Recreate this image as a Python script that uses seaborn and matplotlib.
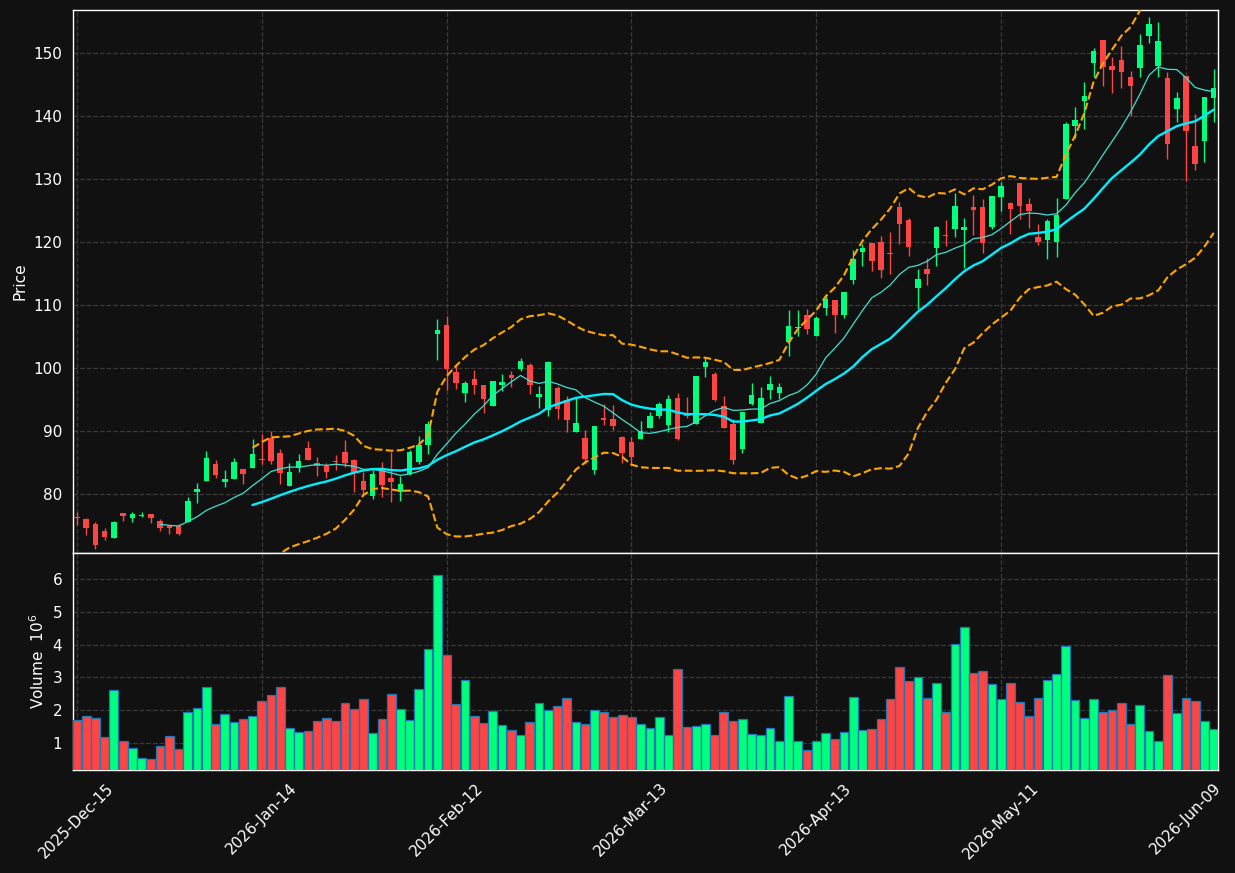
import matplotlib
matplotlib.use("Agg")
import matplotlib.pyplot as plt
import seaborn as sns
import numpy as np
import pandas as pd

# ---- Data ----
opens = [76.30, 75.93, 75.24, 74.02, 72.96, 76.88, 76.14, 76.51, 76.72, 75.61,
         74.87, 74.81, 75.50, 80.21, 81.96, 84.66, 81.85, 82.33, 83.86, 84.07,
         85.45, 88.84, 86.40, 81.22, 84.07, 87.20, 84.81, 84.34, 85.13, 86.56,
         85.29, 81.96, 79.63, 83.81, 82.43, 80.26, 83.17, 85.08, 87.67, 105.29,
         106.72, 99.26, 95.93, 98.15, 97.20, 93.86, 97.20, 98.78, 99.84, 100.37,
         95.29, 93.23, 96.72, 94.81, 89.74, 88.78, 83.70, 91.96, 91.80, 88.94,
         88.15, 88.68, 90.42, 92.28, 90.85, 95.13, 92.59, 91.00, 100.05, 98.94,
         93.97, 91.01, 87.04, 94.18, 91.16, 96.40, 95.93, 104.02, 106.30, 108.31,
         105.03, 109.47, 110.79, 108.31, 113.92, 118.31, 119.89, 120.05, 118.15, 125.45,
         123.54, 112.65, 115.66, 118.99, 121.16, 121.96, 121.80, 125.45, 125.45, 122.43,
         127.04, 126.24, 129.37, 126.03, 120.69, 120.21, 120.05, 126.77, 138.36, 142.28,
         148.36, 152.12, 147.99, 148.94, 146.24, 147.67, 152.65, 147.99, 146.08, 141.06,
         146.40, 135.29, 135.98, 142.80]
highs = [77.10, 76.19, 75.50, 74.60, 75.61, 76.88, 77.04, 77.09, 76.72, 76.03,
         74.87, 75.13, 79.47, 81.75, 86.72, 85.29, 83.81, 85.71, 83.86, 88.73,
         89.52, 89.95, 87.14, 84.87, 86.35, 88.41, 85.87, 84.92, 86.08, 88.57,
         85.45, 83.49, 83.70, 85.03, 86.56, 82.80, 86.88, 89.21, 91.48, 107.78,
         108.15, 100.63, 97.88, 99.68, 97.20, 97.83, 99.05, 99.52, 101.48, 100.79,
         97.14, 101.01, 97.04, 95.45, 95.13, 90.05, 90.69, 94.29, 94.13, 89.10,
         88.99, 91.59, 93.02, 94.55, 95.71, 96.03, 95.40, 98.62, 101.75, 99.37,
         95.56, 91.80, 92.91, 97.51, 96.88, 98.73, 97.62, 109.21, 109.21, 109.26,
         108.15, 111.75, 110.79, 111.96, 118.78, 119.58, 119.89, 120.90, 121.48, 126.40,
         123.86, 115.71, 117.51, 122.59, 123.39, 127.83, 123.86, 127.46, 126.72, 127.35,
         129.42, 126.40, 129.37, 126.93, 122.75, 123.65, 126.93, 138.99, 141.43, 145.40,
         150.85, 152.12, 149.42, 151.16, 147.20, 152.96, 155.77, 154.97, 147.04, 143.81,
         146.40, 140.32, 143.07, 147.46]
lows = [75.00, 73.49, 71.27, 72.70, 72.96, 75.61, 75.50, 76.30, 75.40, 74.07,
        73.60, 73.44, 75.50, 78.52, 81.96, 82.49, 81.11, 82.33, 81.59, 84.07,
        84.76, 84.76, 81.59, 81.22, 83.49, 85.29, 82.86, 82.54, 83.70, 84.29,
        80.26, 80.00, 79.21, 79.47, 78.68, 78.84, 83.02, 84.76, 86.35, 101.27,
        96.51, 96.61, 94.55, 95.87, 92.86, 93.86, 96.30, 96.98, 99.52, 95.87,
        93.65, 92.38, 91.80, 89.79, 89.74, 84.66, 83.07, 90.95, 90.16, 84.92,
        84.66, 88.68, 90.42, 92.06, 89.79, 88.47, 92.06, 91.00, 98.52, 94.66,
        90.42, 84.71, 86.46, 94.02, 91.16, 95.08, 94.97, 101.90, 105.03, 105.40,
        105.03, 108.31, 105.50, 107.88, 113.28, 116.19, 115.40, 114.29, 114.92, 119.63,
        117.78, 109.37, 113.17, 116.19, 119.37, 120.74, 115.77, 121.11, 118.20, 122.06,
        124.87, 121.27, 123.65, 122.17, 119.52, 117.30, 117.60, 126.77, 136.46, 137.94,
        146.19, 144.76, 143.65, 144.44, 140.00, 146.13, 151.64, 146.24, 133.12, 139.05,
        129.68, 131.43, 132.70, 139.05]
closes = [76.10, 74.55, 71.85, 73.07, 75.45, 76.40, 76.72, 76.67, 76.14, 74.50,
          74.50, 73.54, 78.78, 80.69, 85.61, 82.96, 82.28, 84.97, 83.12, 86.35,
          85.35, 85.13, 83.28, 83.39, 85.24, 85.29, 84.44, 83.44, 85.03, 84.81,
          83.33, 80.53, 83.07, 81.32, 81.80, 81.48, 86.56, 87.67, 91.01, 105.93,
          99.74, 97.57, 97.51, 97.20, 94.97, 97.83, 97.67, 98.31, 101.11, 97.20,
          95.77, 100.85, 93.39, 91.64, 91.16, 85.50, 90.69, 91.69, 90.69, 86.46,
          85.77, 90.00, 92.28, 94.18, 94.97, 88.62, 92.28, 98.62, 100.90, 94.81,
          90.42, 85.29, 92.91, 95.61, 95.13, 97.35, 96.88, 106.56, 106.40, 106.08,
          107.83, 110.85, 108.31, 111.96, 117.20, 118.94, 116.88, 115.45, 117.99, 122.80,
          119.10, 114.02, 114.92, 122.28, 120.85, 125.61, 122.28, 125.13, 119.89, 127.20,
          128.94, 125.29, 125.66, 124.87, 120.05, 123.23, 124.29, 138.78, 139.42, 143.23,
          150.37, 147.83, 147.25, 146.93, 144.76, 151.32, 154.66, 151.96, 135.56, 142.86,
          137.57, 132.28, 143.07, 144.50]
volumes = [1.70, 1.82, 1.76, 1.18, 2.61, 1.06, 0.85, 0.55, 0.52, 0.91,
           1.21, 0.82, 1.94, 2.06, 2.70, 1.58, 1.88, 1.64, 1.73, 1.82,
           2.27, 2.45, 2.70, 1.45, 1.33, 1.36, 1.67, 1.76, 1.67, 2.21,
           2.03, 2.33, 1.30, 1.73, 2.48, 2.03, 1.70, 2.64, 3.88, 6.12,
           3.67, 2.18, 2.91, 1.82, 1.61, 1.97, 1.55, 1.39, 1.24, 1.64,
           2.21, 2.00, 2.12, 2.36, 1.64, 1.58, 2.00, 1.94, 1.79, 1.85,
           1.79, 1.58, 1.45, 1.79, 1.24, 3.27, 1.48, 1.52, 1.58, 1.24,
           1.94, 1.67, 1.73, 1.27, 1.24, 1.45, 1.06, 2.42, 1.06, 0.79,
           1.06, 1.30, 1.12, 1.33, 2.39, 1.39, 1.42, 1.73, 2.33, 3.33,
           2.88, 3.00, 2.36, 2.82, 1.94, 4.03, 4.52, 3.12, 3.18, 2.79,
           2.33, 2.82, 2.24, 1.82, 2.36, 2.91, 3.09, 3.97, 2.32, 1.76,
           2.33, 1.94, 2.00, 2.21, 1.58, 2.15, 1.36, 1.06, 3.06, 1.91,
           2.36, 2.27, 1.67, 1.42]  # millions

holidays = ['2025-12-25', '2026-01-01', '2026-01-19', '2026-02-16', '2026-04-03', '2026-05-25']
dates = pd.bdate_range('2025-12-15', periods=len(closes), freq='C', holidays=holidays)

df = pd.DataFrame({'open': opens, 'high': highs, 'low': lows, 'close': closes, 'volume': volumes})
df['pos'] = np.arange(len(df))
df['ma10'] = df['close'].rolling(10).mean()
df['ma20'] = df['close'].rolling(20).mean()
df['std20'] = df['close'].rolling(20).std()
df['bb_up'] = df['ma20'] + 2 * df['std20']
df['bb_lo'] = df['ma20'] - 2 * df['std20']

up_color = '#00ff7f'
down_color = '#ff4444'
bg = '#111111'

# ---- Plot ----
sns.set_theme(style='dark')
plt.rcParams['font.family'] = ['DejaVu Sans']
plt.rcParams.update({
    'figure.facecolor': bg,
    'axes.facecolor': bg,
    'axes.edgecolor': 'white',
    'axes.labelcolor': 'white',
    'xtick.color': 'white',
    'ytick.color': 'white',
    'text.color': 'white',
    'grid.color': '#3a3a3a',
    'grid.linestyle': '--',
    'grid.linewidth': 0.9,
})

fig = plt.figure(figsize=(12.35, 8.73), dpi=100)
ax = fig.add_axes([0.0589, 0.3666, 0.9276, 0.6219])
axv = fig.add_axes([0.0589, 0.1180, 0.9276, 0.2486], sharex=ax)

is_up = df['close'] >= df['open']
colors = np.where(is_up, up_color, down_color)

# wicks and bodies
ax.vlines(df['pos'], df['low'], df['high'], colors=colors, linewidth=1.0, zorder=3)
body_bottom = np.minimum(df['open'], df['close'])
body_height = np.maximum(np.abs(df['close'] - df['open']), 0.12)
ax.bar(df['pos'], body_height, bottom=body_bottom, width=0.6, color=colors, linewidth=0, zorder=4)

# moving averages and bands
sns.lineplot(data=df, x='pos', y='ma10', ax=ax, color='#40e0d0', linewidth=0.9, zorder=5)
sns.lineplot(data=df, x='pos', y='ma20', ax=ax, color='#00eeff', linewidth=1.7, zorder=5)
sns.lineplot(data=df, x='pos', y='bb_up', ax=ax, color='orange', linewidth=1.5, linestyle='--', zorder=5)
sns.lineplot(data=df, x='pos', y='bb_lo', ax=ax, color='orange', linewidth=1.5, linestyle='--', zorder=5)

ax.set_ylim(70.6, 156.8)
ax.set_yticks([80, 90, 100, 110, 120, 130, 140, 150])
ax.set_ylabel('Price', fontsize=11)
ax.set_xlabel('')
ax.grid(True)
ax.tick_params(axis='x', labelbottom=False, length=0)
ax.tick_params(axis='y', labelsize=11, length=4)

# volume
axv.bar(df['pos'], df['volume'], width=0.95, color=colors, edgecolor='#1f77b4', linewidth=0.9, zorder=3)
axv.set_ylim(0.18, 6.79)
axv.set_yticks([1, 2, 3, 4, 5, 6])
axv.set_ylabel('Volume  $10^6$', fontsize=11)
axv.grid(True)
axv.tick_params(axis='y', labelsize=11, length=4)

tick_pos = list(range(0, len(df), 20))
axv.set_xticks(tick_pos)
axv.set_xticklabels([dates[i].strftime('%Y-%b-%d') for i in tick_pos], rotation=45, ha='center', fontsize=11)
axv.tick_params(axis='x', length=4)
axv.set_xlim(-0.45, 123.5)

for a in (ax, axv):
    for s in a.spines.values():
        s.set_color('white')
        s.set_linewidth(1.0)

fig.savefig('out.png', dpi=100, facecolor=bg)
